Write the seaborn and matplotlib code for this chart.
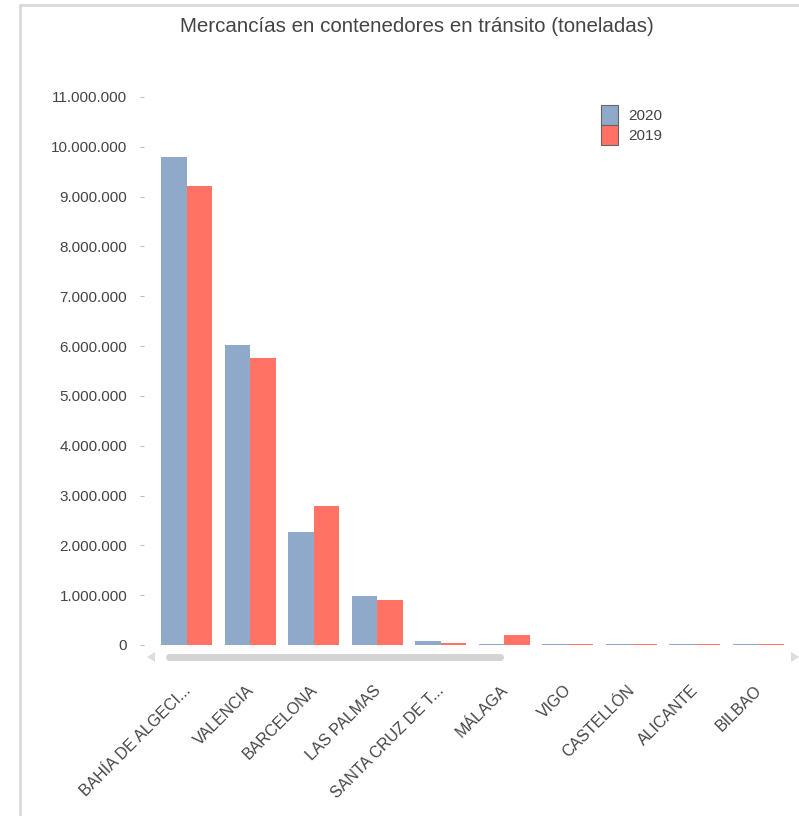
import pandas as pd
import matplotlib.pyplot as plt
import matplotlib.patches as mpatches
from matplotlib.ticker import FuncFormatter
import seaborn as sns

puertos = ["BAHÍA DE ALGECI...", "VALENCIA", "BARCELONA", "LAS PALMAS", "SANTA CRUZ DE T...",
           "MÁLAGA", "VIGO", "CASTELLÓN", "ALICANTE", "BILBAO"]
t2020 = [9800000, 6020000, 2270000, 980000, 80000, 30000, 30000, 25000, 25000, 25000]
t2019 = [9220000, 5770000, 2790000, 900000, 35000, 210000, 30000, 25000, 25000, 25000]
years = ["2020", "2019"]
colors = {"2020": "#8EA9C9", "2019": "#FF7264"}

df = pd.DataFrame({
    "puerto": puertos * 2,
    "toneladas": t2020 + t2019,
    "year": ["2020"] * len(puertos) + ["2019"] * len(puertos),
})

sns.set_style("white")
plt.rcParams["font.family"] = ["Liberation Sans", "DejaVu Sans"]

fig = plt.figure(figsize=(7.99, 8.16), dpi=100)
ax = fig.add_axes([155 / 799, 171 / 816, 635 / 799, 548 / 816])

sns.barplot(data=df, x="puerto", y="toneladas", hue="year", hue_order=years,
            palette=colors, width=0.8, saturation=1, linewidth=0, ax=ax, legend=False)

ax.set_ylim(0, 11000000)
ax.set_xlim(-0.5, 9.5)
ax.set_yticks(range(0, 11000001, 1000000))
ax.yaxis.set_major_formatter(FuncFormatter(lambda v, p: f"{int(v):,}".replace(",", ".")))
ax.set_xlabel("")
ax.set_ylabel("")
for s in ax.spines.values():
    s.set_visible(False)
ax.spines["left"].set_position(("outward", 8))
ax.tick_params(axis="y", length=3, width=0.8, color="#bbbbbb", labelcolor="#444444",
               labelsize=11, pad=9, left=True)
ax.tick_params(axis="x", length=0, labelcolor="#444444", labelsize=11.5, pad=27)
plt.setp(ax.get_xticklabels(), rotation=45, ha="right", rotation_mode="anchor")
for lbl in ax.get_xticklabels():
    lbl.set_transform(lbl.get_transform() + mpatches.transforms.ScaledTranslation(-0.04, 0, fig.dpi_scale_trans))

handles = [mpatches.Patch(facecolor=colors[y], edgecolor="#666666", linewidth=0.8, label=y) for y in years]
fig.legend(handles=handles, loc="upper left", bbox_to_anchor=(590 / 799, 1 - 94 / 816),
           frameon=False, fontsize=11, handlelength=1.1, handleheight=1.65,
           handletextpad=0.7, labelspacing=0.0, borderpad=0.2, labelcolor="#444444")

fig.suptitle("Mercancías en contenedores en tránsito (toneladas)", x=417 / 799, y=1 - 27 / 816,
             va="center", fontsize=14.8, color="#444444")

# scroll bar and panel frame
fig.patches.append(mpatches.FancyBboxPatch((166 / 799, 1 - 661 / 816), 338 / 799, 7 / 816,
                                           boxstyle="round,pad=0,rounding_size=0.005",
                                           facecolor="#d4d4d4", edgecolor="none",
                                           transform=fig.transFigure))
fig.patches.append(mpatches.Polygon([(147 / 799, 1 - 657 / 816), (155 / 799, 1 - 652 / 816),
                                     (155 / 799, 1 - 662 / 816)], closed=True,
                                    facecolor="#dddddd", edgecolor="none", transform=fig.transFigure))
fig.patches.append(mpatches.Polygon([(799 / 799, 1 - 657 / 816), (791 / 799, 1 - 652 / 816),
                                     (791 / 799, 1 - 662 / 816)], closed=True,
                                    facecolor="#dddddd", edgecolor="none", transform=fig.transFigure))
fig.add_artist(plt.Line2D([20 / 799, 20 / 799], [0, 1 - 5 / 816], color="#d9d9d9", lw=2,
                          transform=fig.transFigure))
fig.add_artist(plt.Line2D([20 / 799, 1], [1 - 5 / 816, 1 - 5 / 816], color="#d9d9d9", lw=2,
                          transform=fig.transFigure))

fig.savefig("out.png", dpi=100)
